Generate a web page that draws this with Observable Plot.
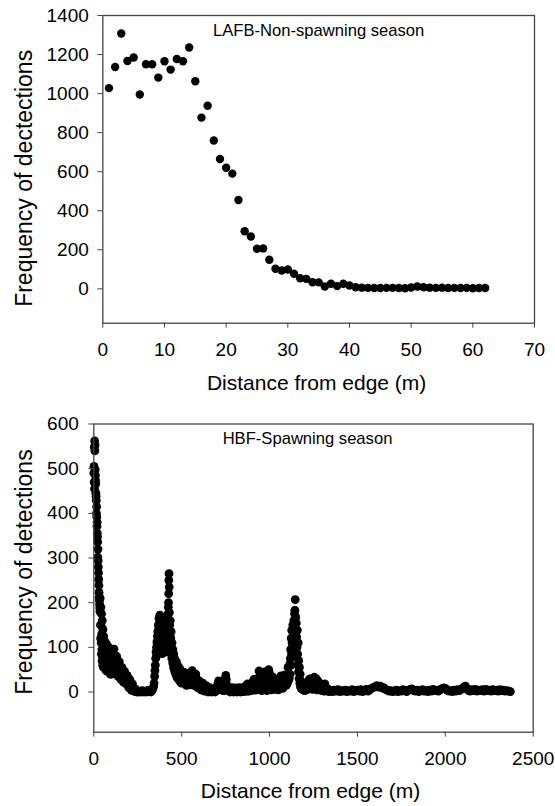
<!DOCTYPE html>
<html>
<head>
<meta charset="utf-8">
<script src="https://cdn.jsdelivr.net/npm/d3@7"></script>
<script src="https://cdn.jsdelivr.net/npm/@observablehq/plot@0.6"></script>
<style>
  html, body { margin: 0; padding: 0; background: #fff; }
  #chart svg { display: block; }
</style>
</head>
<body>
<div id="chart"></div>
<script>
// ---------- Panel 1: LAFB, non-spawning season ----------
const lafbDistance = [1,2,3,4,5,6,7,8,9,10,11,12,13,14,15,16,17,18,19,20,21,22,23,24,25,26,27,28,29,30,31,32,33,34,35,36,37,38,39,40,41,42,43,44,45,46,47,48,49,50,51,52,53,54,55,56,57,58,59,60,61,62];
const lafbFrequency = [1028,1136,1308,1167,1185,995,1150,1150,1082,1166,1123,1177,1166,1236,1063,877,938,760,665,620,590,455,295,268,205,207,149,103,94,99,77,54,51,34,33,12,26,14,26,17,8,6,5,4,4,5,5,4,3,7,12,8,6,5,6,4,5,4,5,3,4,4];
const lafbXTicks = [0,10,20,30,40,50,60,70];
const lafbYTicks = [0,200,400,600,800,1000,1200,1400];

// ---------- Panel 2: HBF, spawning season ([distance m, frequency]) ----------
const hbfEdge = [[0,490],[1,505],[2,470],[3,548],[4,455],[5,562],[6,540],[7,553],[8,498],[9,485],[10,474],[11,466],[12,445],[13,438],[14,429],[15,400],[16,415],[17,392],[18,371],[19,380],[20,355],[21,347],[22,336],[23,302],[24,320],[25,294],[26,280],[27,267],[28,252],[29,239],[30,223],[31,212],[32,205],[33,196],[34,188],[35,180]];
const hbfNear = [[36,210],[38,150],[40,190],[42,110],[44,175],[46,95],[48,160],[50,80],[52,140],[54,70],[56,125],[58,60],[60,115],[62,55],[64,100],[66,52],[68,110],[70,48],[72,90],[74,50],[76,105],[78,60],[80,80],[82,45],[84,100],[86,55],[88,95],[90,45],[92,75],[94,40],[96,85],[98,50],[100,70],[103,55],[106,42],[109,62],[112,85],[115,96],[118,72],[121,50],[124,40],[127,58],[130,80],[133,65],[136,45],[139,35],[142,52],[145,68],[148,55],[151,40],[154,28],[157,45],[160,55],[163,42],[166,30],[169,22],[172,35],[175,46],[178,38],[181,26],[184,18],[187,30],[190,37],[193,25],[196,15],[199,10],[202,22],[205,28],[208,18],[211,8],[214,4],[217,14],[220,18],[223,9],[226,3],[229,2],[232,8],[235,6],[238,1],[241,3],[244,0],[247,2],[250,1],[255,0],[260,2],[265,1],[270,0],[275,3],[280,1],[285,0],[290,2],[295,1],[300,0],[305,3],[310,1],[315,4],[320,2],[325,0],[330,3],[335,6],[340,12]];
const hbfNearFill = [[37,180],[39,120],[41,150],[43,85],[45,130],[47,70],[49,120],[51,60],[53,105],[55,55],[57,90],[59,75],[61,85],[63,65],[65,80],[67,58],[69,75],[71,62],[73,70],[75,55],[77,80],[79,48],[81,65],[83,58],[85,75],[87,48],[89,68],[91,55],[93,60],[95,45],[97,62],[99,40],[102,48],[105,70],[108,52],[111,45],[114,75],[117,55],[120,62],[123,45],[126,52],[129,68],[132,48],[135,55],[138,42],[141,40],[144,55],[147,45],[150,48],[153,35],[156,38],[159,32],[162,48],[165,38],[168,26],[171,28],[174,40],[177,30],[180,32],[183,22],[186,25],[189,20],[192,30],[195,20],[198,18],[201,14],[204,12],[207,22],[210,12],[213,10],[216,6],[219,10],[222,4],[225,8],[228,5],[231,3]];
const hbfPeak400 = [[343,20],[346,35],[348,48],[350,60],[352,75],[354,90],[357,100],[359,112],[362,125],[364,135],[367,150],[369,140],[371,165],[373,155],[376,172],[378,130],[381,168],[383,110],[386,160],[388,95],[390,86],[392,140],[395,150],[397,105],[400,120],[402,145],[405,140],[407,100],[410,90],[412,118],[414,130],[416,95],[418,100],[420,160],[422,175],[424,190],[425,200],[426,220],[427,250],[428,265],[429,235],[430,178],[432,150],[434,125],[435,160],[437,110],[438,120],[440,135],[442,95],[443,100],[445,110],[447,88],[448,80],[450,95],[452,75],[453,70],[455,85],[457,65],[458,60],[460,75],[462,58],[465,55],[467,48],[470,68],[472,50],[475,45],[477,38],[480,58],[482,42],[485,40],[487,32],[490,52],[492,38],[495,35],[497,28],[500,45]];
const hbfPeak400Fill = [[356,80],[361,100],[366,120],[370,130],[374,140],[380,140],[384,135],[389,120],[393,110],[398,130],[403,110],[408,125],[413,105],[417,120],[421,130],[423,110],[431,120],[433,100],[436,90],[439,85],[444,75],[449,65],[454,55],[459,48],[464,42],[469,38],[474,32],[479,30],[484,28],[489,25],[494,22],[499,20]];
const hbfMiddle = [[505,25],[510,35],[515,44],[520,30],[525,20],[530,32],[535,40],[540,28],[545,16],[550,30],[555,45],[560,48],[565,30],[570,15],[575,28],[580,40],[585,25],[590,10],[595,20],[600,25],[605,14],[610,5],[615,12],[620,20],[625,10],[630,2],[635,8],[640,14],[645,6],[650,0],[655,5],[660,10],[665,4],[670,0],[675,3],[680,6],[685,2],[690,0],[695,4],[700,10],[705,18],[710,25],[715,22],[720,12],[725,5],[730,10],[735,3],[740,8],[745,18],[748,30],[751,37],[754,28],[757,15],[760,5],[765,10],[770,3],[775,0],[780,6],[785,10],[790,4],[795,0],[800,5],[805,9],[810,3],[815,0],[820,6],[825,10],[830,4],[835,0],[840,7],[845,10],[850,4],[855,1],[860,8],[865,14],[870,9],[875,18],[880,5],[885,12],[890,16],[895,3],[900,10],[905,22],[910,28],[915,14],[920,4],[925,18],[930,30],[935,20],[940,47],[945,32],[950,12],[955,3],[960,22],[965,38],[970,45],[975,28],[980,10],[985,3],[990,35],[995,50],[1000,42],[1005,20],[1010,5],[1015,18],[1020,33],[1025,22],[1030,6],[1035,15],[1040,28],[1045,18],[1050,5],[1055,14],[1060,30],[1065,36],[1070,20],[1075,8],[1080,24],[1085,38],[1090,28],[1095,15],[1100,35],[1105,55],[1110,40],[1115,62]];
const hbfMiddleFill = [[502,35],[507,30],[512,20],[517,35],[522,25],[527,15],[532,25],[537,18],[542,35],[547,22],[552,38],[557,22],[562,38],[567,22],[572,32],[577,20],[582,32],[587,15],[592,15],[597,12],[602,18],[607,8],[612,10],[617,6],[622,12],[627,5],[632,6],[637,3],[642,8],[647,3],[702,4],[707,8],[712,15],[717,8],[722,6],[742,3],[747,10],[750,22],[753,15],[756,8],[862,3],[867,5],[872,2],[877,10],[882,2],[887,5],[892,8],[897,8],[902,4],[907,15],[912,18],[917,8],[922,10],[927,8],[932,12],[937,30],[942,25],[947,15],[952,25],[957,12],[962,8],[967,25],[972,20],[977,15],[982,22],[987,18],[992,20],[997,25],[1002,30],[1007,12],[1012,10],[1017,8],[1022,12],[1027,14],[1032,20],[1037,8],[1042,12],[1047,10],[1052,20],[1057,22],[1062,12],[1067,25],[1072,12],[1077,15],[1082,14],[1087,20],[1092,22],[1097,25],[1102,20],[1107,25],[1112,30],[1117,40]];
const hbfPeak1150 = [[1118,75],[1120,95],[1122,60],[1123,120],[1125,85],[1126,138],[1128,110],[1130,100],[1132,150],[1133,125],[1136,80],[1138,160],[1140,120],[1142,175],[1144,183],[1146,207],[1147,165],[1148,168],[1150,140],[1151,90],[1152,154],[1154,123],[1156,100],[1158,138],[1160,85],[1161,60],[1163,110],[1165,45],[1166,70],[1168,30],[1170,55],[1172,20],[1174,40],[1176,12],[1178,25],[1180,8],[1182,15],[1186,10],[1190,5],[1195,12],[1200,3],[1205,18],[1210,8],[1215,22],[1220,12],[1225,28],[1230,15],[1235,30],[1240,18],[1245,6],[1250,20],[1255,33],[1260,15],[1265,30],[1270,5],[1275,25],[1280,12],[1285,20],[1290,4],[1295,15],[1300,3],[1305,10],[1310,2],[1315,18],[1320,5],[1325,8],[1330,2],[1335,6],[1340,1]];
const hbfPeak1150Fill = [[1202,10],[1207,5],[1212,15],[1217,6],[1222,20],[1227,8],[1232,22],[1237,10],[1242,12],[1247,15],[1252,10],[1257,22],[1262,8],[1267,18],[1272,12],[1277,10],[1282,6],[1287,10],[1292,8],[1297,6]];
const hbfTail = [[1350,3],[1360,1],[1370,4],[1380,2],[1390,5],[1400,1],[1410,3],[1420,2],[1430,4],[1440,1],[1450,3],[1460,2],[1470,5],[1480,1],[1490,3],[1500,4],[1510,2],[1520,5],[1530,1],[1540,3],[1550,6],[1560,2],[1570,5],[1580,8],[1590,10],[1600,12],[1610,14],[1620,11],[1630,13],[1640,9],[1650,10],[1660,6],[1670,4],[1680,2],[1690,3],[1700,1],[1710,2],[1720,4],[1730,1],[1740,3],[1750,2],[1760,5],[1770,3],[1780,1],[1790,4],[1800,6],[1810,7],[1820,3],[1830,2],[1840,4],[1850,1],[1860,3],[1870,5],[1880,2],[1890,3],[1900,1],[1910,4],[1920,2],[1930,6],[1940,3],[1950,4],[1960,2],[1970,5],[1980,7],[1990,9],[2000,8],[2010,4],[2020,2],[2030,3],[2040,1],[2050,4],[2060,2],[2070,5],[2080,3],[2090,6],[2100,9],[2110,12],[2115,13],[2120,8],[2130,4],[2140,2],[2150,5],[2160,3],[2170,6],[2180,2],[2190,4],[2200,3],[2210,5],[2220,2],[2230,6],[2240,3],[2250,4],[2260,2],[2270,5],[2280,3],[2290,4],[2300,2],[2310,5],[2320,3],[2330,4],[2340,2],[2350,3],[2360,2],[2370,1]];
const hbfXTicks = [0,500,1000,1500,2000,2500];
const hbfYTicks = [0,100,200,300,400,500,600];

// ---------- drawing ----------
const FONT = "'Liberation Sans', Arial, Helvetica, sans-serif";
const AXIS = "#444";

function panel(o) {
  return Plot.plot({
    width: 555,
    height: o.height,
    marginTop: o.mt, marginRight: o.mr, marginBottom: o.mb, marginLeft: o.ml,
    style: {fontFamily: FONT, fontSize: "19px", color: "#000", background: "#fff", overflow: "visible"},
    x: {domain: o.xDomain},
    y: {domain: o.yDomain},
    marks: [
      Plot.dot(o.data, {x: d => d[0], y: d => d[1], r: o.r, fill: "#000", stroke: "none"}),
      Plot.frame({stroke: AXIS, strokeWidth: 1.3}),
      Plot.axisX({ticks: o.xTicks, tickSize: 5, tickPadding: 14, tickFormat: d3.format("d"), label: null, fontSize: 19, stroke: AXIS}),
      Plot.axisY({ticks: o.yTicks, tickSize: 5, tickPadding: o.yPad, tickFormat: d3.format("d"), label: null, fontSize: 19, stroke: AXIS}),
      Plot.text([o.title], {text: d => d, frameAnchor: "top", dx: o.titleDx, dy: o.titleDy, lineAnchor: "middle", textAnchor: "middle", fontSize: 16.6, fill: "#000"}),
      Plot.text(["Distance from edge (m)"], {text: d => d, frameAnchor: "bottom", dx: o.xlDx, dy: o.xlDy, lineAnchor: "middle", textAnchor: "middle", fontSize: 21, fill: "#000"}),
      Plot.text([o.yLabel], {text: d => d, frameAnchor: "left", dx: o.ylDx, dy: o.ylDy, rotate: -90, lineAnchor: "middle", textAnchor: "middle", fontSize: 23, fill: "#000"})
    ]
  });
}

const lafbPanel = panel({
  height: 400, mt: 15, mr: 21, mb: 77.3, ml: 102.3, r: 4.2,
  data: lafbDistance.map((d, i) => [d, lafbFrequency[i]]),
  xDomain: [0, 70], yDomain: [-176, 1400],
  xTicks: lafbXTicks, yTicks: lafbYTicks, yPad: 9,
  title: "LAFB-Non-spawning season", titleDx: 0, titleDy: 15,
  xlDx: -2, xlDy: 60,
  yLabel: "Frequency of dectections", ylDx: -78, ylDy: 9
});

const hbfPanel = panel({
  height: 406, mt: 23.5, mr: 22.3, mb: 74.3, ml: 93.3, r: 4.4,
  data: [].concat(hbfEdge, hbfNear, hbfNearFill, hbfPeak400, hbfPeak400Fill, hbfMiddle, hbfMiddleFill, hbfPeak1150, hbfPeak1150Fill, hbfTail),
  xDomain: [0, 2500], yDomain: [-90, 600],
  xTicks: hbfXTicks, yTicks: hbfYTicks, yPad: 10,
  title: "HBF-Spawning season", titleDx: -6, titleDy: 15,
  xlDx: -3, xlDy: 59,
  yLabel: "Frequency of detections", ylDx: -69, ylDy: -6
});

const chart = document.getElementById("chart");
chart.appendChild(lafbPanel);
chart.appendChild(hbfPanel);
</script>
</body>
</html>
